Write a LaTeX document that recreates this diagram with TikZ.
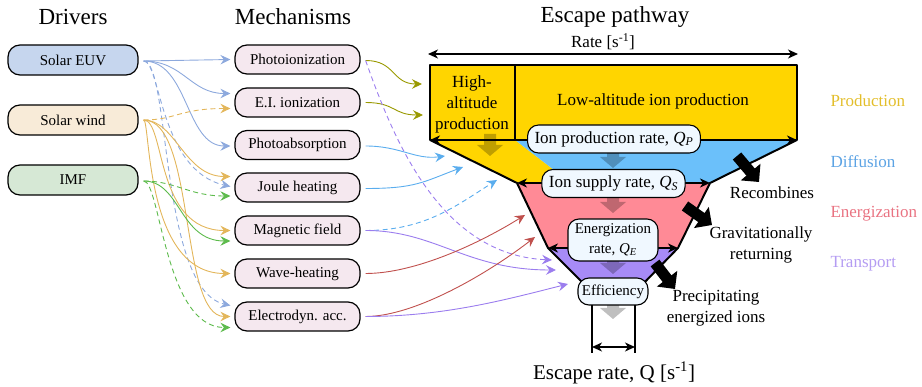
\documentclass[tikz,border=0pt]{standalone}
\usepackage{fontspec}
\setmainfont{Liberation Serif}[Ligatures=TeX]
\usetikzlibrary{arrows.meta,calc}
\definecolor{drvEUV}{HTML}{C6D6EE}
\definecolor{drvSW}{HTML}{F8EBD8}
\definecolor{drvIMF}{HTML}{D6E8D5}
\definecolor{mechfill}{HTML}{F5E8EF}
\definecolor{ratefill}{HTML}{F0F8FF}
\definecolor{regY}{HTML}{FFD500}
\definecolor{regB}{HTML}{6BC0FA}
\definecolor{regP}{HTML}{FF8A96}
\definecolor{regV}{HTML}{A78BF7}
\definecolor{cEUV}{HTML}{8DA9DD}
\definecolor{cSW}{HTML}{E3B65A}
\definecolor{cIMF}{HTML}{5DBB4C}
\definecolor{cOlive}{HTML}{999900}
\definecolor{cBlue}{HTML}{5AADEE}
\definecolor{cRed}{HTML}{C0504D}
\definecolor{cPurple}{HTML}{9B7DEE}
\definecolor{lgProd}{HTML}{E3BE2B}
\definecolor{lgDiff}{HTML}{5CA3E4}
\definecolor{lgEner}{HTML}{E97382}
\definecolor{lgTrans}{HTML}{B49CF2}
\tikzset{pics/fatdown/.style={code={\fill[black,fill opacity=0.25] (-6,-11) -- (6,-11) -- (6,0) -- (13,0) -- (0,11) -- (-13,0) -- (-6,0) -- cycle;}}}
\begin{document}
\begin{tikzpicture}[x=1pt,y=-1pt,
  every node/.style={font=\rmfamily},
  title/.style={font=\rmfamily\fontsize{23}{27}\selectfont},
  drv/.style={draw, line width=1.2pt, rounded corners=12pt, minimum width=130pt, minimum height=30pt, font=\rmfamily\fontsize{15}{18}\selectfont},
  mech/.style={draw, line width=1.2pt, rounded corners=12pt, minimum width=125pt, minimum height=29pt, fill=mechfill, font=\rmfamily\fontsize{15}{18}\selectfont},
  ratebox/.style={draw, line width=1.1pt, rounded corners=11pt, fill=ratefill, font=\rmfamily\fontsize{17}{20}\selectfont, inner xsep=7pt, inner ysep=2pt, minimum height=28pt},
  lbl/.style={font=\rmfamily\fontsize{17}{21}\selectfont, align=center},
  legend/.style={font=\rmfamily\fontsize{17}{20}\selectfont, anchor=west},
  conn/.style={line width=0.9pt, -{Stealth[length=10pt,width=9.5pt,inset=3.5pt]}},
  dsh/.style={dash pattern=on 5pt off 3.5pt},
  edge/.style={line width=2pt, line join=round},
  level/.style={line width=1.8pt, {Stealth[length=10pt,width=9pt,inset=3pt]}-{Stealth[length=10pt,width=9pt,inset=3pt]}},
  thinlevel/.style={line width=1.3pt, {Stealth[length=10pt,width=9pt,inset=3pt]}-{Stealth[length=10pt,width=9pt,inset=3pt]}},
  loss/.style={line width=11pt, -{Triangle[length=13pt,width=25pt]}},
]
\useasboundingbox (0,0) rectangle (922,387);

% titles
\node[title] (tDrv) at (73,17) {Drivers};
\node[title] (tMech) at (293,17) {Mechanisms};
\node[title] (tEsc) at (615,17) {Escape pathway};

% drivers
\node[drv, fill=drvEUV] (euv) at (73,60) {Solar EUV};
\node[drv, fill=drvSW] (sw) at (73,120) {Solar wind};
\node[drv, fill=drvIMF] (imf) at (73,180) {IMF};

% mechanisms
\node[mech] (pi) at (297.5,59.5) {Photoionization};
\node[mech] (ei) at (297.5,102.5) {E.I. ionization};
\node[mech] (pa) at (297.5,145) {Photoabsorption};
\node[mech] (jh) at (297.5,187.5) {Joule heating};
\node[mech] (mf) at (297.5,230.5) {Magnetic field};
\node[mech] (wh) at (297.5,273.5) {Wave-heating};
\node[mech] (ea) at (297.5,316.5) {Electrodyn. acc.};

% funnel coordinates
\coordinate (tl) at (430,65);
\coordinate (tr) at (797,65);
\coordinate (dv) at (515,65);
\coordinate (pl) at (430,140);
\coordinate (pr) at (797,140);
\coordinate (dvb) at (515,140);
\coordinate (sl) at (517,183);
\coordinate (sm) at (571,183);
\coordinate (sr) at (710,183);
\coordinate (el) at (548,248);
\coordinate (er) at (678,248);
\coordinate (bl) at (586,286);
\coordinate (br) at (641,286);
\coordinate (ra) at (428,54);
\coordinate (rb) at (798,54);

% region fills
\fill[regY] (tl) rectangle (pr);
\fill[regY] (pl) -- (dvb) -- (sm) -- (sl) -- cycle;
\fill[regB] (dvb) -- (pr) -- (sr) -- (sm) -- cycle;
\fill[regP] (sl) -- (sr) -- (er) -- (el) -- cycle;
\fill[regV] (el) -- (er) -- (br) -- (bl) -- cycle;

% grey flow arrows
\pic at (490,145) {fatdown};
\pic at (613,157) {fatdown};
\pic at (613,202) {fatdown};
\pic at (613,263) {fatdown};
\pic at (613,308) {fatdown};

% outlines
\draw[edge] (tl) rectangle (pr);
\draw[edge] (dv) -- (dvb);
\draw[edge] (pl) -- (sl) -- (el) -- (bl);
\draw[edge] (pr) -- (sr) -- (er) -- (br);
\draw[level] (pl) -- (pr);
\draw[level] (sl) -- (sr);
\draw[level] (el) -- (er);
\draw[thinlevel] (ra) -- (rb);
\node[font=\rmfamily\fontsize{17}{20}\selectfont] (ratelbl) at (603,42) {Rate [s\textsuperscript{-1}]};

% texts in production box
\node[lbl] (high) at (472,104) {High-\\altitude\\production};
\node[lbl] (low) at (653,101) {Low-altitude ion production};

% rate nodes
\node[ratebox] (qp) at (614,139) {Ion production rate, \textit{Q}\textsubscript{\textit{P}}};
\node[ratebox] (qs) at (613.5,183.5) {Ion supply rate, \textit{Q}\textsubscript{\textit{S}}};
\node[ratebox, font=\rmfamily\fontsize{15}{20}\selectfont, align=center, inner xsep=5pt, minimum width=90pt, minimum height=42pt] (qe) at (613,240) {Energization\\rate, \textit{Q}\textsubscript{\textit{E}}};
\node[ratebox, font=\rmfamily\fontsize{15}{18}\selectfont, inner xsep=3.5pt, minimum width=70pt, minimum height=27pt] (eff) at (613,291.5) {Efficiency};

% escape tube
\coordinate (t1) at (592,305);
\coordinate (t2) at (635,305);
\coordinate (b1) at (592,353);
\coordinate (b2) at (635,353);
\coordinate (a1) at (592,347);
\coordinate (a2) at (635,347);
\draw[line width=1.8pt] (t1) -- (b1);
\draw[line width=1.8pt] (t2) -- (b2);
\draw[thinlevel] (a1) -- (a2);
\node[font=\rmfamily\fontsize{21}{25}\selectfont] (esc) at (614,373) {Escape rate, Q [s\textsuperscript{-1}]};

% loss arrows
\coordinate (r0) at (737,156); \coordinate (r1) at (759,182);
\coordinate (g0) at (685,206); \coordinate (g1) at (712,225);
\coordinate (p0) at (655,263); \coordinate (p1) at (675,289);
\draw[loss] (r0) -- (r1);
\draw[loss] (g0) -- (g1);
\draw[loss] (p0) -- (p1);
\node[lbl] (recomb) at (772,193) {Recombines};
\node[lbl] (grav) at (761,245) {Gravitationally\\returning};
\node[lbl] (prec) at (716,308) {Precipitating\\energized ions};

% legend
\node[legend, text=lgProd] (lp) at (827,101) {Production};
\node[legend, text=lgDiff] (ld) at (827,162) {Diffusion};
\node[legend, text=lgEner] (le) at (827,214) {Energization};
\node[legend, text=lgTrans] (lt) at (827,264) {Transport};

% driver -> mechanism connectors
\draw[conn, cEUV] ($(euv.east)+(5,1)$) -- ($(pi.west)+(-4,0)$);
\draw[conn, cEUV] ($(euv.east)+(5,1)$) .. controls +(40,0) and +(-40,0) .. ($(ei.west)+(-4,-9)$);
\draw[conn, cEUV] ($(euv.east)+(5,1)$) .. controls +(45,0) and +(-45,0) .. ($(pa.west)+(-4,1)$);
\draw[conn, cEUV, dsh] ($(euv.east)+(5,1)$) .. controls +(17,0) and +(-71,-16) .. ($(jh.west)+(-4,-1)$);
\draw[conn, cEUV, dsh] ($(euv.east)+(5,1)$) .. controls +(27,0) and +(-71,-16) .. ($(ea.west)+(-4,-11)$);

\draw[conn, cSW, dsh] ($(sw.east)+(5,0)$) .. controls +(32,0) and +(-51,0) .. ($(ei.west)+(-4,6)$);
\draw[conn, cSW] ($(sw.east)+(5,0)$) .. controls +(32,0) and +(-46,0) .. ($(jh.west)+(-4,-11)$);
\draw[conn, cSW] ($(sw.east)+(5,0)$) .. controls +(22,0) and +(-76,0) .. ($(mf.west)+(-4,0)$);
\draw[conn, cSW] ($(sw.east)+(5,0)$) .. controls +(7,0) and +(-86,0) .. ($(wh.west)+(-4,0)$);
\draw[conn, cSW] ($(sw.east)+(5,0)$) .. controls +(52,0) and +(-51,0) .. ($(ea.west)+(-4,0)$);

\draw[conn, cIMF, dsh] ($(imf.east)+(5,1)$) .. controls +(32,0) and +(-41,0) .. ($(jh.west)+(-4,8.5)$);
\draw[conn, cIMF] ($(imf.east)+(5,1)$) .. controls +(37,0) and +(-51,0) .. ($(mf.west)+(-4,10.5)$);
\draw[conn, cIMF, dsh] ($(imf.east)+(5,1)$) .. controls +(17,0) and +(-66,0) .. ($(ea.west)+(-4,11)$);

% mechanism -> funnel connectors
\coordinate (hiA) at (422,84);
\coordinate (hiB) at (423,115);
\coordinate (dfA) at (445,156);
\coordinate (dfB) at (463,167);
\coordinate (dfC) at (497,180);
\coordinate (enA) at (525,215);
\coordinate (enB) at (535,237);
\coordinate (trA) at (552,260);
\coordinate (trB) at (556,270);
\coordinate (trC) at (568,284);
\draw[conn, cOlive] ($(pi.east)+(5,1)$) .. controls +(30,0) and +(-30,0) .. (hiA);
\draw[conn, cOlive] ($(ei.east)+(5,0)$) .. controls +(30,0) and +(-30,0) .. (hiB);
\draw[conn, cBlue] ($(pa.east)+(5,1)$) .. controls +(35,0) and +(-30,4) .. (dfA);
\draw[conn, cBlue] ($(jh.east)+(5,1)$) .. controls +(50,0) and +(-40,15) .. (dfB);
\draw[conn, cBlue, dsh] ($(mf.east)+(5,0)$) .. controls +(60,0) and +(-40,25) .. (dfC);
\draw[conn, cPurple, dsh] ($(pi.east)+(5,1)$) .. controls +(28,79) and +(-112,-5) .. (trA);
\draw[conn, cPurple] ($(mf.east)+(5,0)$) .. controls +(70,0) and +(-90,0) .. (trB);
\draw[conn, cRed] ($(wh.east)+(5,0)$) .. controls +(50,0) and +(-45,28) .. (enA);
\draw[conn, cRed] ($(ea.east)+(5,0)$) .. controls +(50,0) and +(-45,35) .. (enB);
\draw[conn, cPurple] ($(ea.east)+(5,0)$) .. controls +(80,0) and +(-60,15) .. (trC);
\end{tikzpicture}
\end{document}
